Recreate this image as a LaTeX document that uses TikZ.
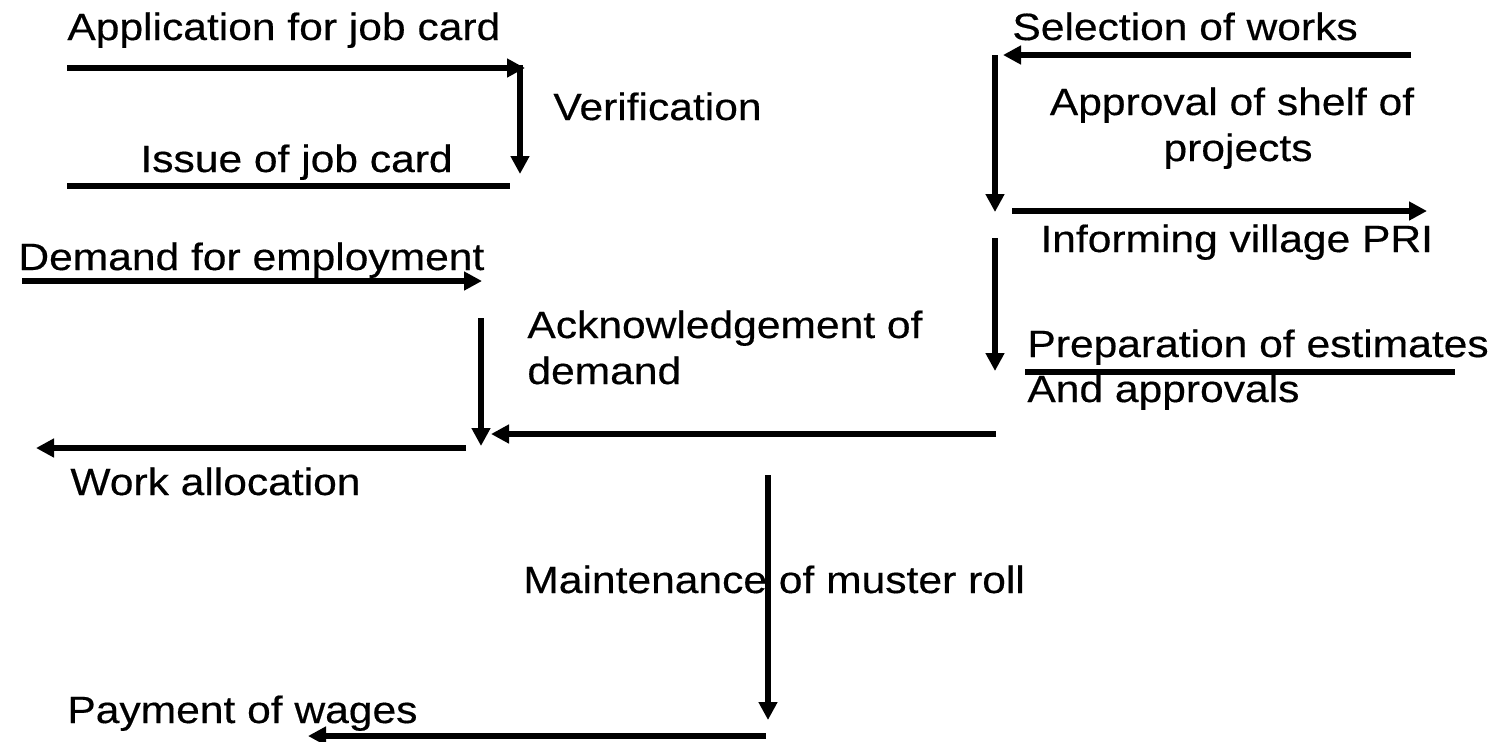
\documentclass[tikz,border=0pt]{standalone}
\usepackage{fontspec}
\setmainfont[FakeStretch=1.12,FakeBold=0.4]{Liberation Sans}
\usetikzlibrary{arrows.meta}
\begin{document}
\begin{tikzpicture}[x=0.5pt,y=-0.5pt,
  lbl/.style={anchor=base west, inner sep=0pt, font=\fontsize{19pt}{23pt}\selectfont},
  clbl/.style={lbl, anchor=base},
  flow/.style={line width=2.8pt, -{Triangle[length=9pt,width=9pt]}},
  plainline/.style={line width=2.8pt}]
\useasboundingbox[fill=white] (0,0) rectangle (1499,741);

% ---- left column texts
\node[lbl] (app)   at (67,40)  {Application for job card};
\node[lbl] (ver)   at (553,120) {Verification};
\node[lbl] (issue) at (140,172) {Issue of job card};
\node[lbl] (dem)   at (18,270) {Demand for employment};
\node[lbl] (ack1)  at (527,338) {Acknowledgement of};
\node[lbl] (ack2)  at (527,384) {demand};
\node[lbl] (work)  at (70,495) {Work allocation};
\node[lbl] (must)  at (523,593) {Maintenance of muster roll};
\node[lbl] (pay)   at (67,723) {Payment of wages};

% ---- right column texts
\node[lbl]  (sel)   at (1012,40) {Selection of works};
\node[clbl] (appr1) at (1232,115) {Approval of shelf of};
\node[clbl] (appr2) at (1238,161) {projects};
\node[lbl]  (inf)   at (1040,252) {Informing village PRI};
\node[lbl]  (prep)  at (1027,357) {Preparation of estimates};
\node[lbl]  (andap) at (1027,402) {And approvals};

% ---- connector end points
\coordinate (a1s) at (67,68);    \coordinate (a1e) at (525,68);
\coordinate (v1s) at (520,65);   \coordinate (v1e) at (520,174);
\coordinate (l1s) at (67,186);   \coordinate (l1e) at (510,186);
\coordinate (d1s) at (22,281);   \coordinate (d1e) at (482,281);
\coordinate (v2s) at (481,318);  \coordinate (v2e) at (481,446);
\coordinate (h2s) at (996,434);  \coordinate (h2e) at (491,434);
\coordinate (w1s) at (466,448);  \coordinate (w1e) at (36,448);
\coordinate (v3s) at (768,475);  \coordinate (v3e) at (768,720);
\coordinate (p1s) at (766,736);  \coordinate (p1e) at (308,736);

\coordinate (s1s) at (1411,55);  \coordinate (s1e) at (1003,55);
\coordinate (v4s) at (995,55);   \coordinate (v4e) at (995,212);
\coordinate (i1s) at (1012,211); \coordinate (i1e) at (1427,211);
\coordinate (v5s) at (995,238);  \coordinate (v5e) at (995,371);
\coordinate (l2s) at (1025,372); \coordinate (l2e) at (1455,372);

% ---- connectors
\draw[flow] (a1s) -- (a1e);
\draw[flow] (v1s) -- (v1e);
\draw[plainline] (l1s) -- (l1e);
\draw[flow] (d1s) -- (d1e);
\draw[flow] (v2s) -- (v2e);
\draw[flow] (h2s) -- (h2e);
\draw[flow] (w1s) -- (w1e);
\draw[flow] (v3s) -- (v3e);
\draw[flow] (p1s) -- (p1e);
\draw[flow] (s1s) -- (s1e);
\draw[flow] (v4s) -- (v4e);
\draw[flow] (i1s) -- (i1e);
\draw[flow] (v5s) -- (v5e);
\draw[plainline] (l2s) -- (l2e);
\end{tikzpicture}
\end{document}
